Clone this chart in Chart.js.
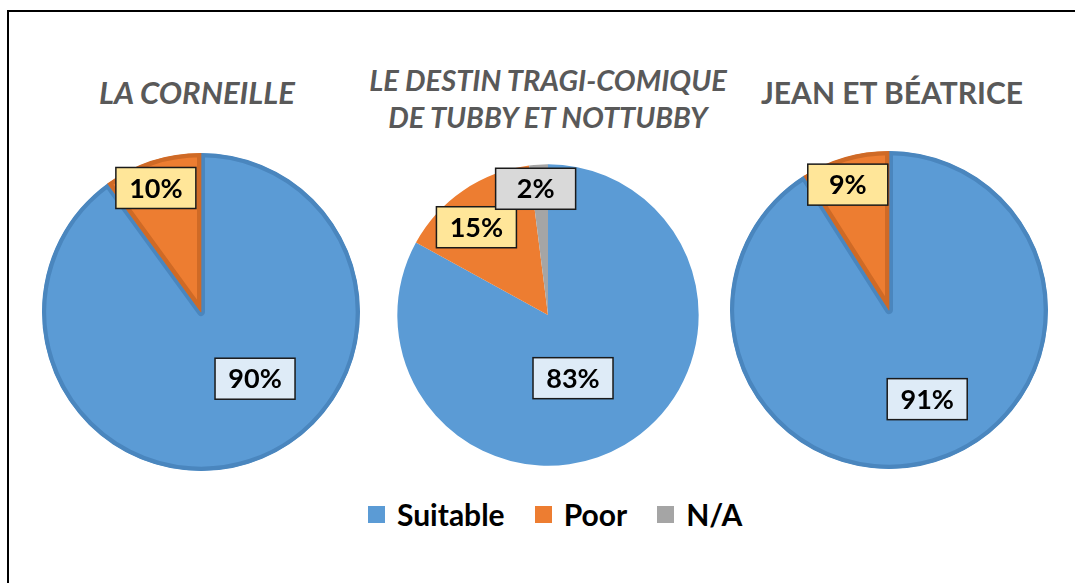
<!DOCTYPE html>
<html>
<head>
<meta charset="utf-8">
<script src="https://cdn.jsdelivr.net/npm/chart.js@4.4.1/dist/chart.umd.min.js"></script>
<style>
  html, body { margin: 0; padding: 0; background: #fff; }
  #page { position: relative; width: 1075px; height: 583px; overflow: hidden; font-family: Lato, "Open Sans", sans-serif; }
  #frame { position: absolute; left: 7px; top: 10px; width: 1100px; height: 600px; border-top: 2px solid #000; border-left: 2px solid #000; }
  canvas { position: absolute; }
  .title { position: absolute; width: 340px; text-align: center; color: #595959; font-weight: 700; font-size: 31px; line-height: 37px; }
  .title.it { font-style: italic; }
  #legend { position: absolute; left: 368px; top: 496px; display: flex; align-items: center; font-weight: 700; font-size: 30px; color: #000; }
  #legend span.box { display: inline-block; width: 17px; height: 17px; margin-right: 12px; }
  #legend .item { display: flex; align-items: center; margin-right: 30px; }
</style>
</head>
<body>
<div id="page">
  <div id="frame"></div>
  <div class="title it" style="left:27px; top:74px;">LA CORNEILLE</div>
  <div class="title it" style="left:368px; top:61px; width:360px; font-size:29px;">LE DESTIN TRAGI-COMIQUE<br>DE TUBBY ET NOTTUBBY</div>
  <div class="title" style="left:722px; top:74px; font-size:30px;">JEAN ET BÉATRICE</div>
  <canvas id="pie1" width="340" height="340" style="left:31px; top:142px;"></canvas>
  <canvas id="pie2" width="340" height="340" style="left:378px; top:145px;"></canvas>
  <canvas id="pie3" width="340" height="340" style="left:719px; top:140px;"></canvas>
  <div id="legend"></div>
</div>
<script>
// data
var categories = ["Suitable", "Poor", "N/A"];
var corneille = [90, 10, 0];
var destin = [83, 15, 2];
var jean = [91, 9, 0];

var fillColors = ["#5B9BD5", "#ED7D31", "#A5A5A5"];
var rimColors = ["#4A86BE", "#CF6A26", "#8F8F8F"];
var labelFills = ["#DEEBF7", "#FFE699", "#D9D9D9"];

// boxed percentage labels, placed from each arc's mid angle
var boxLabels = {
    id: 'boxLabels',
    afterDatasetsDraw: function (chart, args, opts) {
        var ctx = chart.ctx;
        var meta = chart.getDatasetMeta(0);
        var values = chart.data.datasets[0].data;
        ctx.save();
        ctx.font = "700 27px Lato, sans-serif";
        ctx.textAlign = "center";
        ctx.textBaseline = "middle";
        meta.data.forEach(function (arc, i) {
            if (!values[i]) return;
            var a = (arc.startAngle + arc.endAngle) / 2 + opts.shift[i] * Math.PI / 180;
            var d = arc.outerRadius * opts.radial[i];
            var x = arc.x + Math.cos(a) * d;
            var y = arc.y + Math.sin(a) * d;
            var w = 80, h = 41;
            ctx.fillStyle = labelFills[i];
            ctx.fillRect(x - w / 2, y - h / 2, w, h);
            ctx.lineWidth = 1.5;
            ctx.strokeStyle = "#1a1a1a";
            ctx.strokeRect(x - w / 2, y - h / 2, w, h);
            ctx.fillStyle = "#000";
            ctx.fillText(values[i] + "%", x, y + 1);
        });
        ctx.restore();
    }
};

function makePie(id, values, radius, rim, placement) {
    var ctx = document.getElementById(id).getContext('2d');
    return new Chart(ctx, {
        type: 'pie',
        data: {
            labels: categories,
            datasets: [{
                data: values,
                backgroundColor: fillColors,
                borderColor: rim ? rimColors : fillColors,
                borderWidth: rim ? 4 : 0,
                borderAlign: 'inner'
            }]
        },
        options: {
            responsive: false,
            animation: false,
            radius: radius,
            plugins: {
                legend: { display: false },
                tooltip: { enabled: false },
                boxLabels: placement
            }
        },
        plugins: [boxLabels]
    });
}

makePie('pie1', corneille, 159, true, { radial: [0.54, 0.83, 0.84], shift: [-21, -2, 0] });
makePie('pie2', destin, 151, false, { radial: [0.45, 0.75, 0.84], shift: [9, -5, -2] });
makePie('pie3', jean, 159, true, { radial: [0.61, 0.83, 0.84], shift: [-7, -2, 0] });

// legend
var legend = document.getElementById('legend');
categories.forEach(function (c, i) {
    var item = document.createElement('div');
    item.className = 'item';
    item.innerHTML = '<span class="box" style="background:' + fillColors[i] + '"></span>' + c;
    legend.appendChild(item);
});
</script>
</body>
</html>
